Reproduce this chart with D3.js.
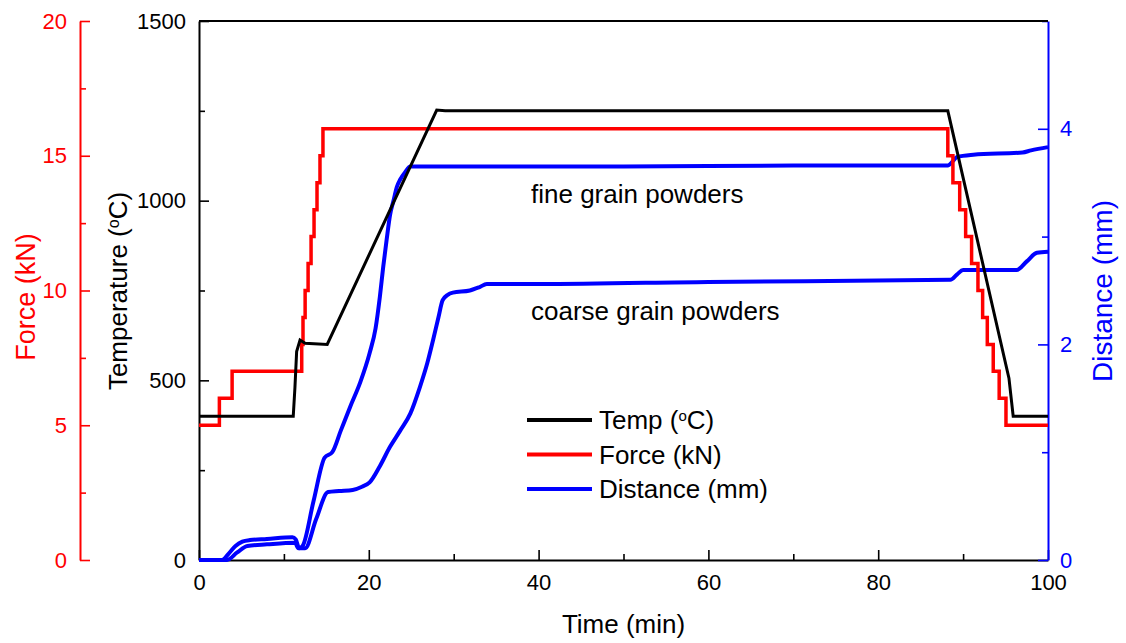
<!DOCTYPE html>
<html>
<head>
<meta charset="utf-8">
<script src="https://cdn.jsdelivr.net/npm/d3@7"></script>
<style>
  body { margin: 0; background: #fff; }
  svg text { font-family: "Liberation Sans", Arial, sans-serif; }
</style>
</head>
<body>
<div id="chart"></div>
<script>
// time in minutes for each series
var tempTime = [0, 11.1, 11.3, 11.5, 11.9, 12.5, 15.1, 28, 29, 88.2, 95.4, 95.9, 100];
var tempValue = [400, 400, 480, 580, 612, 603, 600, 1252, 1250, 1250, 506, 400, 400];

var forceTime = [0, 2.4, 3.9, 12.1, 12.25, 12.5, 12.85, 13.2, 13.55, 13.9, 14.25, 14.6,
  88.2, 88.8, 89.6, 90.3, 91.0, 91.75, 92.3, 92.85, 93.55, 94.25, 95.05, 100];
var forceValue = [5, 6, 7, 8, 9, 10, 11, 12, 13, 14, 15, 16,
  15, 14, 13, 12, 11, 10, 9, 8, 7, 6, 5, 5];

var fineTime = [0, 2.7, 3.5, 4.3, 5.1, 6, 8, 11, 11.4, 11.8, 12.2, 13.5, 14.8, 15.7, 16.7,
  17.8, 19, 20.1, 20.8, 21.3, 21.7, 22.1, 22.5, 22.9, 23.3, 23.7, 24.3, 24.9, 30, 50, 70,
  88.2, 88.8, 89.3, 91.2, 97, 98, 100];
var fineValue = [0, 0, 0.06, 0.13, 0.17, 0.185, 0.195, 0.21, 0.19, 0.11, 0.13, 0.55, 0.95, 1.0, 1.2,
  1.42, 1.65, 1.92, 2.15, 2.44, 2.72, 2.97, 3.2, 3.33, 3.46, 3.53, 3.6, 3.65, 3.65, 3.65, 3.66,
  3.66, 3.7, 3.74, 3.76, 3.78, 3.8, 3.83];

var coarseTime = [0, 3.3, 4.5, 5.7, 8, 11.3, 11.7, 12.5, 13.8, 15.2, 16.5, 18.1, 19.2, 20.1,
  21.3, 22.5, 23.7, 24.9, 26, 26.9, 27.6, 28.2, 28.7, 29.3, 29.9, 31.9, 33, 33.9, 40, 60,
  88.5, 89.3, 90, 96.3, 97.5, 98.7, 100];
var coarseValue = [0, 0, 0.07, 0.13, 0.145, 0.16, 0.11, 0.11, 0.38, 0.63, 0.64, 0.65, 0.68, 0.72,
  0.87, 1.05, 1.2, 1.36, 1.6, 1.83, 2.05, 2.25, 2.41, 2.46, 2.48, 2.5, 2.53, 2.56, 2.56, 2.58,
  2.6, 2.65, 2.69, 2.69, 2.77, 2.85, 2.86];

var timeTicks = [0, 20, 40, 60, 80, 100];
var timeMinor = [10, 30, 50, 70, 90];
var tempTicks = [0, 500, 1000, 1500];
var tempMinor = [250, 750, 1250];
var forceTicks = [0, 5, 10, 15, 20];
var forceMinor = [2.5, 7.5, 12.5, 17.5];
var distTicks = [0, 2, 4];
var distMinor = [1, 3, 5];

var legendLabels = ["Temp", "Force (kN)", "Distance (mm)"];

var W = 1126, H = 643;
var plotLeft = 199, plotRight = 1048, plotTop = 21, plotBottom = 560;

var x = d3.scaleLinear().domain([0, 100]).range([plotLeft, plotRight]);
var yT = d3.scaleLinear().domain([0, 1500]).range([plotBottom, plotTop]);
var yF = d3.scaleLinear().domain([0, 20]).range([plotBottom, plotTop]);
var yD = d3.scaleLinear().domain([0, 5]).range([plotBottom, plotTop]);

var svg = d3.select("#chart").append("svg")
    .attr("width", W)
    .attr("height", H);

function zip(t, v) {
  return t.map(function(d, i) { return [d, v[i]]; });
}

// axes: major with labels, minor without
function drawAxis(axisFn, scale, major, minor, transform, color, pad) {
  var g = svg.append("g").attr("transform", transform);
  g.call(axisFn(scale).tickValues(major).tickSizeInner(-10).tickSizeOuter(0)
    .tickPadding(pad).tickFormat(d3.format("d")));
  var m = svg.append("g").attr("transform", transform);
  m.call(axisFn(scale).tickValues(minor).tickSizeInner(-6).tickSizeOuter(0).tickFormat(""));
  m.select(".domain").remove();
  [g, m].forEach(function(s) {
    s.selectAll("line").attr("stroke", color).attr("stroke-width", 1.6);
    s.select(".domain").attr("stroke", color).attr("stroke-width", 2);
    s.selectAll("text").attr("fill", color).style("font-size", "22px");
  });
  return g;
}

drawAxis(d3.axisBottom, x, timeTicks, timeMinor, "translate(0," + plotBottom + ")", "#000", 14);
drawAxis(d3.axisLeft, yT, tempTicks, tempMinor, "translate(" + plotLeft + ",0)", "#000", 13);
drawAxis(d3.axisLeft, yF, forceTicks, forceMinor, "translate(80,0)", "#ff0000", 13);
drawAxis(d3.axisRight, yD, distTicks, distMinor, "translate(" + plotRight + ",0)", "#0000ff", 12);

// top border
svg.append("line")
  .attr("x1", plotLeft).attr("x2", plotRight)
  .attr("y1", plotTop).attr("y2", plotTop)
  .attr("stroke", "#000").attr("stroke-width", 2);

// axis titles
svg.append("text")
  .attr("x", (plotLeft + plotRight) / 2).attr("y", 633)
  .attr("text-anchor", "middle")
  .style("font-size", "26px")
  .text("Time (min)");

var tt = svg.append("text")
  .attr("transform", "translate(127,291) rotate(-90)")
  .attr("text-anchor", "middle")
  .style("font-size", "26px");
tt.append("tspan").text("Temperature (");
tt.append("tspan").attr("baseline-shift", "super").style("font-size", "16px").text("o");
tt.append("tspan").text("C)");

svg.append("text")
  .attr("transform", "translate(35,297) rotate(-90)")
  .attr("text-anchor", "middle")
  .attr("fill", "#ff0000")
  .style("font-size", "27px")
  .text("Force (kN)");

svg.append("text")
  .attr("transform", "translate(1112,291) rotate(-90)")
  .attr("text-anchor", "middle")
  .attr("fill", "#0000ff")
  .style("font-size", "28px")
  .text("Distance (mm)");

// series
var lineT = d3.line().x(function(d) { return x(d[0]); }).y(function(d) { return yT(d[1]); });
var lineF = d3.line().curve(d3.curveStepAfter)
  .x(function(d) { return x(d[0]); }).y(function(d) { return yF(d[1]); });
var lineD = d3.line().curve(d3.curveMonotoneX)
  .x(function(d) { return x(d[0]); }).y(function(d) { return yD(d[1]); });

svg.append("path").datum(zip(coarseTime, coarseValue))
  .attr("d", lineD).attr("fill", "none").attr("stroke", "#0000ff").attr("stroke-width", 4);
svg.append("path").datum(zip(fineTime, fineValue))
  .attr("d", lineD).attr("fill", "none").attr("stroke", "#0000ff").attr("stroke-width", 4);
svg.append("path").datum(zip(forceTime, forceValue))
  .attr("d", lineF).attr("fill", "none").attr("stroke", "#ff0000").attr("stroke-width", 3.5);
svg.append("path").datum(zip(tempTime, tempValue))
  .attr("d", lineT).attr("fill", "none").attr("stroke", "#000").attr("stroke-width", 3);

// annotations
svg.append("text").attr("x", 531).attr("y", 203).style("font-size", "26px").text("fine grain powders");
svg.append("text").attr("x", 531).attr("y", 320).style("font-size", "26px").text("coarse grain powders");

// legend
var legendColors = ["#000", "#ff0000", "#0000ff"];
var lg = svg.append("g").attr("transform", "translate(527,420)");
legendLabels.forEach(function(lab, i) {
  var row = lg.append("g").attr("transform", "translate(0," + (i * 34.5) + ")");
  row.append("line").attr("x1", 0).attr("x2", 65).attr("y1", 0).attr("y2", 0)
    .attr("stroke", legendColors[i]).attr("stroke-width", 4);
  var t = row.append("text").attr("x", 72).attr("y", 9).style("font-size", "26px");
  if (i === 0) {
    t.append("tspan").text("Temp (");
    t.append("tspan").attr("baseline-shift", "super").style("font-size", "15px").text("o");
    t.append("tspan").text("C)");
  } else {
    t.text(lab);
  }
});
</script>
</body>
</html>
